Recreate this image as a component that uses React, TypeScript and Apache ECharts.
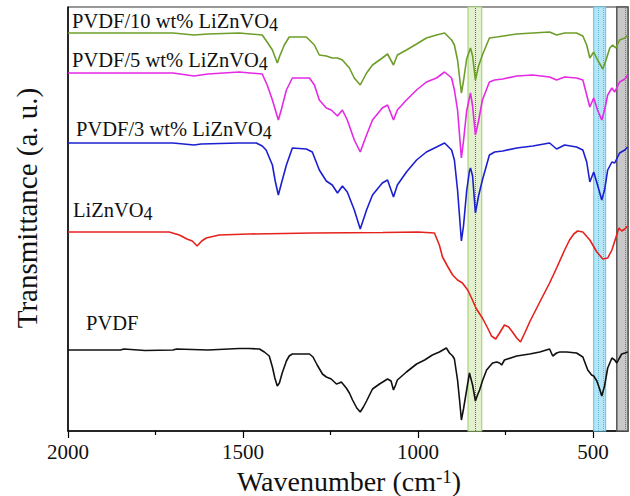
import React, { useEffect, useRef } from "react";
import * as echarts from "echarts";

const FONT = '"Liberation Serif", "Times New Roman", serif';

// [wavenumber (cm-1), transmittance (a.u., offset spectra)]
const pvdf: [number, number][] = [
  [2000, 81], [1850, 81], [1840, 82], [1800, 81], [1780, 80.5], [1700, 81], [1690, 82], [1600, 81],
  [1511, 82.5], [1482, 82.5], [1453, 82], [1439, 79], [1425, 75], [1416, 64], [1409, 53], [1402, 45],
  [1396, 48], [1388, 58], [1376, 70], [1368, 75], [1359, 77], [1340, 77], [1310, 77], [1300, 74],
  [1288, 66], [1273, 57], [1262, 54], [1248, 52], [1233, 47], [1225, 48], [1219, 49], [1205, 43],
  [1196, 38], [1187, 31], [1175, 23], [1165, 19], [1156, 24], [1147, 30], [1130, 42], [1110, 47],
  [1087, 52], [1077, 50], [1070, 41], [1064, 46], [1059, 51], [1033, 59], [1004, 67], [981, 71],
  [959, 76], [939, 79], [924, 82], [919, 83], [910, 78], [901, 75], [896, 72], [887, 51], [881, 30],
  [876, 11], [870, 22], [861, 41], [853, 58], [844, 46], [836, 30], [830, 36], [824, 41], [816, 50],
  [804, 61], [787, 68], [775, 69], [767, 68], [761, 66], [753, 71], [718, 75], [681, 77], [652, 79],
  [624, 82], [615, 75], [604, 78], [595, 79], [575, 79], [547, 78], [529, 74], [515, 61], [504, 56],
  [498, 55], [489, 50], [481, 42], [475, 35], [467, 45], [458, 63], [446, 73], [438, 71], [432, 68],
  [426, 72], [418, 77], [409, 78], [401, 79],
];

const liznvo4: [number, number][] = [
  [2000, 199], [1711, 199], [1682, 196], [1660, 192], [1645, 190], [1631, 185], [1618, 190],
  [1605, 193], [1568, 196], [1482, 197], [1300, 198], [1100, 198.5], [1000, 199], [953, 198],
  [939, 186], [930, 174], [916, 165], [901, 156], [887, 151], [873, 148], [858, 141], [847, 133],
  [833, 122], [816, 113], [801, 103], [790, 95], [778, 92], [767, 98], [753, 106], [741, 104],
  [730, 99], [718, 93], [707, 89], [695, 98], [681, 109], [652, 129], [624, 148], [604, 163],
  [581, 181], [567, 191], [555, 197], [544, 200], [529, 199], [509, 191], [489, 179], [472, 172],
  [458, 173], [446, 181], [435, 193], [426, 203], [418, 200], [409, 202], [401, 205],
];

const pvdf3: [number, number][] = [
  [2000, 288], [1800, 288], [1700, 288], [1640, 286], [1620, 287], [1511, 288], [1462, 288],
  [1445, 285], [1434, 281], [1416, 266], [1408, 250], [1399, 236], [1390, 248], [1376, 266],
  [1359, 283], [1319, 282], [1302, 279], [1282, 261], [1262, 250], [1245, 246], [1230, 238],
  [1216, 245], [1202, 239], [1182, 221], [1165, 202], [1147, 221], [1130, 236], [1102, 248],
  [1087, 251], [1070, 234], [1059, 246], [1033, 259], [1004, 271], [976, 279], [947, 284],
  [924, 288], [904, 281], [896, 271], [887, 241], [876, 190], [870, 205], [861, 240], [853, 260],
  [850, 263], [844, 255], [836, 218], [827, 235], [816, 251], [804, 266], [796, 276], [781, 279],
  [758, 280], [718, 283], [672, 285], [624, 288], [604, 282], [581, 286], [547, 284], [529, 281],
  [518, 269], [509, 249], [498, 259], [487, 246], [475, 231], [467, 241], [458, 261], [446, 269],
  [438, 268], [424, 278], [409, 281], [401, 284],
];

const pvdf5: [number, number][] = [
  [2000, 358], [1700, 358], [1640, 355], [1600, 357], [1511, 359], [1445, 357], [1431, 346],
  [1416, 331], [1399, 311], [1390, 322], [1376, 341], [1359, 353], [1310, 353], [1296, 346],
  [1282, 331], [1262, 323], [1248, 321], [1230, 315], [1216, 321], [1202, 311], [1182, 291],
  [1165, 279], [1147, 296], [1130, 311], [1102, 323], [1087, 326], [1070, 311], [1059, 321],
  [1033, 331], [1004, 341], [976, 349], [947, 353], [924, 359], [904, 353], [896, 341], [887, 321],
  [876, 273], [870, 290], [861, 320], [850, 338], [844, 325], [836, 296], [827, 310], [816, 331],
  [796, 349], [781, 351], [758, 352], [718, 355], [672, 356], [624, 354], [604, 351], [581, 354],
  [547, 353], [529, 351], [518, 336], [509, 324], [498, 333], [487, 321], [475, 311], [467, 321],
  [458, 336], [446, 343], [438, 339], [424, 349], [409, 352], [401, 356],
];

const pvdf10: [number, number][] = [
  [2000, 398], [1700, 398], [1640, 396], [1600, 397], [1511, 398], [1445, 396], [1431, 389],
  [1416, 381], [1402, 368], [1395, 375], [1382, 386], [1368, 394], [1319, 394], [1296, 386],
  [1282, 376], [1262, 375], [1245, 373], [1230, 373], [1216, 371], [1196, 363], [1182, 353],
  [1165, 346], [1147, 358], [1130, 366], [1102, 373], [1087, 377], [1070, 366], [1059, 376],
  [1033, 381], [1004, 387], [976, 393], [947, 396], [924, 398], [904, 391], [896, 386], [887, 371],
  [876, 338], [870, 350], [861, 372], [850, 383], [844, 375], [836, 351], [827, 365], [816, 376],
  [796, 393], [775, 394], [718, 397], [672, 398], [624, 399], [604, 396], [581, 398], [547, 398],
  [529, 395], [518, 386], [509, 373], [498, 379], [487, 371], [472, 362], [461, 373], [452, 383],
  [444, 386], [435, 383], [424, 391], [409, 393], [401, 396],
];

const seriesNames = ["PVDF", "LiZnVO4", "PVDF/3 wt% LiZnVO4", "PVDF/5 wt% LiZnVO4", "PVDF/10 wt% LiZnVO4"];
const labelTexts = [
  "PVDF",
  "LiZnVO{s|4}",
  "PVDF/3 wt% LiZnVO{s|4}",
  "PVDF/5 wt% LiZnVO{s|4}",
  "PVDF/10 wt% LiZnVO{s|4}",
];
const xTitle = "Wavenumber (cm{sup|-1})";
const yTitle = "Transmittance (a. u.)";
const majorTicks = [2000, 1500, 1000, 500];
const minorTicks = [1750, 1250, 750];
const greenBand = [857, 818];
const cyanBand = [498, 464];
const greyBand = [432, 400];
const greenMark = [836];
const cyanMarks = [484, 470];
const greyMark = [409];

export default function App() {
  const ref = useRef<HTMLDivElement>(null);
  useEffect(() => {
    if (!ref.current) return;
    const chart = echarts.init(ref.current, null, { renderer: "svg" });
    const datasets = [pvdf, liznvo4, pvdf3, pvdf5, pvdf10];
    const colors = ["#111111", "#e5221e", "#1c1fd0", "#e52ae5", "#6e9e2a"];
    const labelPos = [
      [86, 312],
      [73, 199],
      [76, 118],
      [72, 49],
      [72, 10],
    ];
    const richSub = {
      s: { fontSize: 18, fontFamily: FONT, fill: "#111", padding: [8, 0, 0, 0] },
    };
    const lineSeries = datasets.map((d, i) => ({
      name: seriesNames[i],
      type: "line",
      data: d,
      symbol: "none",
      smooth: false,
      z: 5,
      lineStyle: { color: colors[i], width: 1.6 },
      silent: true,
    }));
    const bandSeries = {
      type: "line",
      data: [],
      z: 1,
      silent: true,
      markArea: {
        silent: true,
        data: [
          [
            { xAxis: greenBand[0], itemStyle: { color: "#e3f1d0", borderColor: "#a9d47f", borderWidth: 1.2 } },
            { xAxis: greenBand[1] },
          ],
          [
            { xAxis: cyanBand[0], itemStyle: { color: "#b6e5f6", borderColor: "#6ccbea", borderWidth: 1.2 } },
            { xAxis: cyanBand[1] },
          ],
          [
            { xAxis: greyBand[0], itemStyle: { color: "#c8c8c8", borderColor: "#555555", borderWidth: 1.5 } },
            { xAxis: greyBand[1] },
          ],
        ],
      },
      markLine: {
        silent: true,
        symbol: "none",
        label: { show: false },
        data: [
          ...greenMark.map((v) => ({ xAxis: v, lineStyle: { color: "#3f6a94", type: "dotted", width: 1 } })),
          ...cyanMarks.map((v) => ({ xAxis: v, lineStyle: { color: "#5fb8dc", type: "dotted", width: 1 } })),
          ...greyMark.map((v) => ({ xAxis: v, lineStyle: { color: "#4f9a3a", type: "dotted", width: 1 } })),
        ],
      },
    };
    const option: any = {
      animation: false,
      grid: {
        left: 68,
        right: 2,
        top: 7,
        bottom: 65,
        containLabel: false,
        outerBoundsMode: "none",
        show: true,
        borderColor: "#333",
        borderWidth: 1,
        backgroundColor: "transparent",
      },
      xAxis: [
        {
          type: "value",
          min: 400,
          max: 2000,
          inverse: true,
          position: "bottom",
          splitLine: { show: false },
          axisLine: { show: true, lineStyle: { color: "#000", width: 1.5 } },
          axisTick: { show: true, customValues: majorTicks, length: 7, lineStyle: { color: "#000", width: 1.2 } },
          axisLabel: {
            show: true,
            customValues: majorTicks,
            formatter: (v: number) => String(v),
            fontSize: 21,
            fontFamily: FONT,
            color: "#111",
            margin: 10,
          },
        },
        {
          type: "value",
          min: 400,
          max: 2000,
          inverse: true,
          position: "bottom",
          splitLine: { show: false },
          axisLine: { show: false },
          axisTick: { show: true, customValues: minorTicks, length: 4, lineStyle: { color: "#000", width: 1.2 } },
          axisLabel: { show: false },
        },
      ],
      yAxis: {
        type: "value",
        min: 0,
        max: 424,
        splitLine: { show: false },
        axisLine: { show: true, lineStyle: { color: "#000", width: 1.5 } },
        axisTick: { show: false },
        axisLabel: { show: false },
      },
      graphic: [
        {
          type: "text",
          x: 27,
          y: 208,
          rotation: Math.PI / 2,
          silent: true,
          style: {
            text: yTitle,
            fontSize: 29,
            fontFamily: FONT,
            fill: "#111",
            align: "center",
            verticalAlign: "middle",
          },
        },
        {
          type: "text",
          x: 349,
          y: 481,
          silent: true,
          style: {
            text: xTitle,
            fontSize: 28,
            fontFamily: FONT,
            fill: "#111",
            align: "center",
            verticalAlign: "middle",
            rich: { sup: { fontSize: 19, fontFamily: FONT, fill: "#111", padding: [0, 0, 10, 0] } },
          },
        },
        ...labelTexts.map((t, i) => ({
          type: "text",
          left: labelPos[i][0],
          top: labelPos[i][1],
          silent: true,
          style: { text: t, fontSize: 20.5, fontFamily: FONT, fill: "#111", rich: richSub },
        })),
      ],
      series: [bandSeries, ...lineSeries],
    };
    chart.setOption(option);
    return () => chart.dispose();
  }, []);
  return <div ref={ref} style={{ width: 630, height: 496, position: "absolute", left: 0, top: 0 }} />;
}
